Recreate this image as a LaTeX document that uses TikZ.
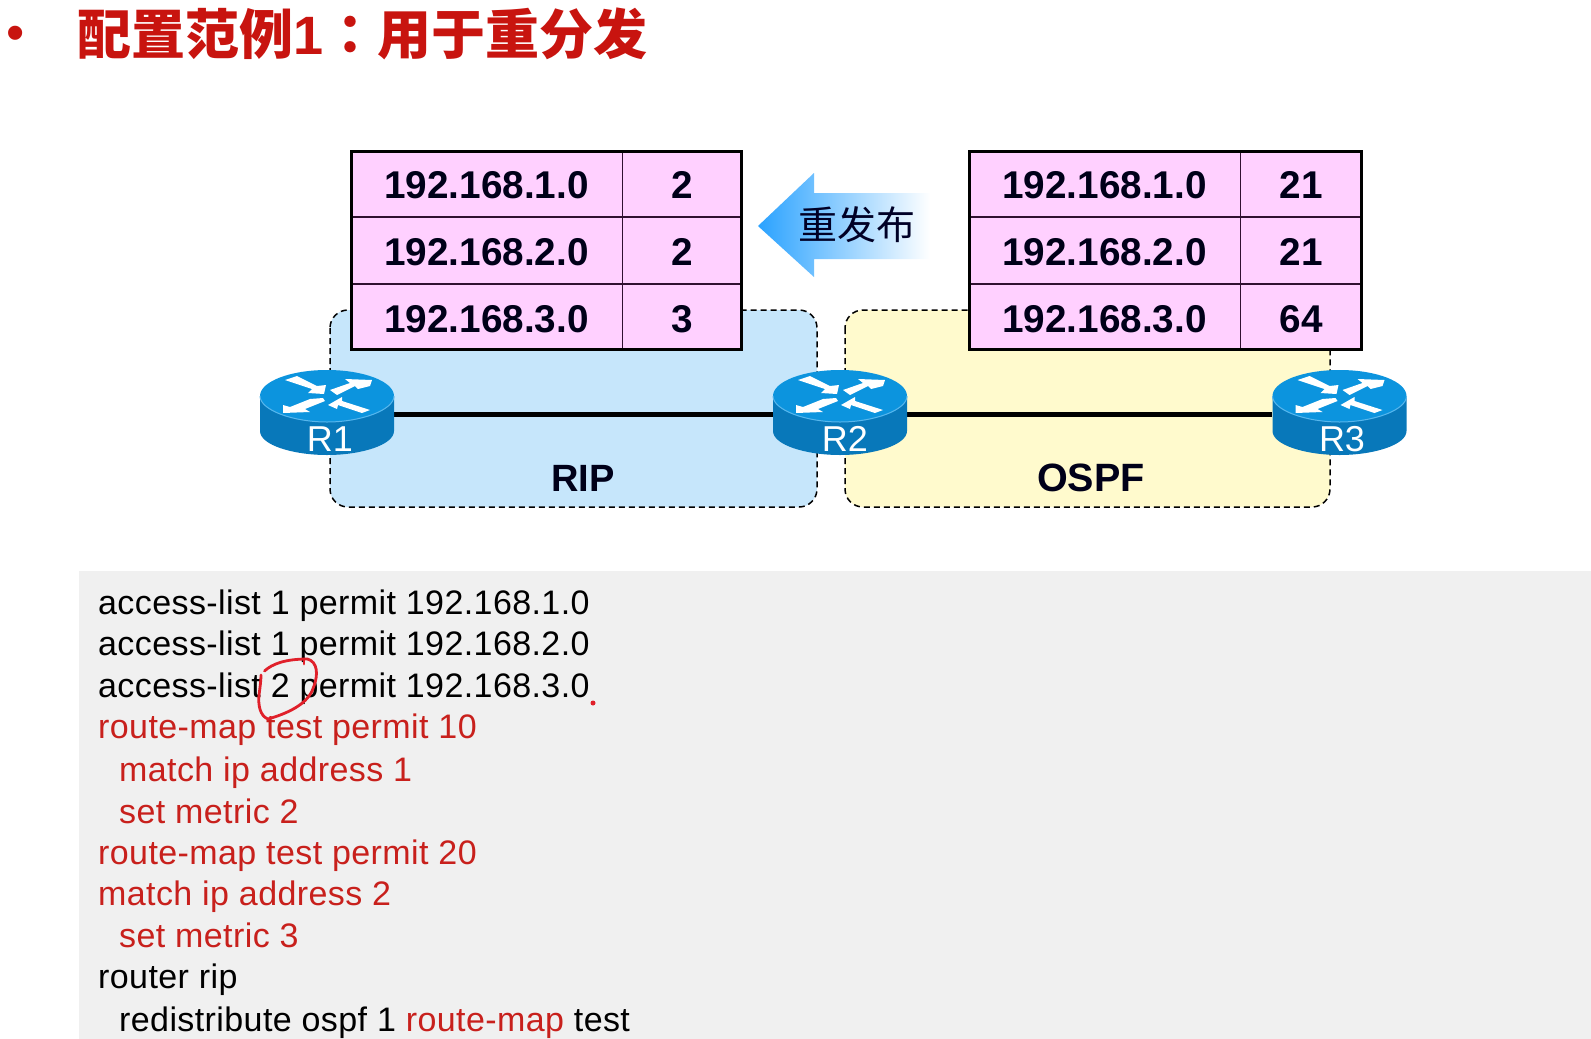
\documentclass[tikz,border=0pt]{standalone}
\usepackage{fontspec}
\setmainfont{Liberation Sans}
\newfontfamily\codefont[LetterSpace=1.2]{Liberation Sans}
\newfontfamily\cjksc{Noto Sans CJK SC}
\newfontfamily\cjktc{Noto Sans CJK TC}
\definecolor{codebg}{HTML}{F0F0F0}
\definecolor{codered}{HTML}{C8201C}
\definecolor{titlered}{HTML}{C8140F}
\definecolor{cellpink}{HTML}{FFD0FF}
\definecolor{cellline}{HTML}{301030}
\definecolor{ripblue}{HTML}{C6E6FB}
\definecolor{ospfyellow}{HTML}{FFFACD}
\definecolor{rtop}{HTML}{0C94DE}
\definecolor{rside}{HTML}{0878BA}
\definecolor{rrim}{HTML}{58B6EC}
\definecolor{arrowblue}{HTML}{2AA2FF}
\definecolor{inkred}{HTML}{E0202A}
\newcommand\routerdraw[1]{%
  \begin{scope}[shift={(#1.center)},yshift=1pt]
    \fill[rside] (-67,-17) -- (-67,18) .. controls (-67,32) and (-34,42) .. (0,42) .. controls (34,42) and (67,32) .. (67,18) -- (67,-17) -- cycle;
    \fill[rtop] (0,-17) ellipse[x radius=67,y radius=26];
    \draw[rrim,line width=1pt] (-67,-17) .. controls (-67,-3) and (-34,9) .. (0,9) .. controls (34,9) and (67,-3) .. (67,-17);
    \fill[white] (-42,-33) -- (-30,-37) -- (-10,-27) -- (-1,-28) -- (-3,-19) -- (-19,-20) -- (-15,-24) -- cycle;
    \fill[white] (3,-23) -- (23,-30) -- (18,-34) -- (45,-33) -- (43,-27) -- (31,-24) -- (28,-27) -- (10,-18) -- cycle;
    \fill[white] (-4,-15) -- (-2,-12) -- (-22,-4) -- (-17,-1) -- (-44,0) -- (-44,-8) -- (-37,-6) -- (-17,-14) -- cycle;
    \fill[white] (1,-8) -- (15,-16) -- (15,-12) -- (43,-3) -- (35,0) -- (11,-8) -- (10,-4) -- cycle;
  \end{scope}}
\tikzset{
  x=1pt,y=-1pt,
  codeline/.style={anchor=base west,inner sep=0pt,font=\fontsize{34}{34}\codefont},
  redline/.style={codeline,text=codered},
  cell/.style={draw=cellline,line width=1pt,fill=cellpink,inner sep=0pt,text height=30pt,text depth=0pt,font=\fontsize{38.7}{39}\selectfont\bfseries,text=black!90!blue},
  addr/.style={cell,minimum width=271pt,minimum height=66pt},
  metric/.style={cell,minimum width=120pt,minimum height=66pt},
  frame/.style={draw=black,line width=3pt},
  region/.style={draw=black,line width=1.5pt,dash pattern=on 6pt off 4pt,rounded corners=18pt},
  routerbox/.style={minimum width=134pt,minimum height=86pt,inner sep=0pt},
  routerlabel/.style={text=white,font=\fontsize{36}{36}\selectfont,inner sep=0pt},
  zonelabel/.style={inner sep=0pt,text=black!90!blue},
  link/.style={draw=black,line width=5pt},
  ink/.style={draw=inkred,line width=2.8pt,line cap=round,line join=round}
}
\begin{document}
\begin{tikzpicture}
\useasboundingbox (0,0) rectangle (1591,1039);
\fill[white] (0,0) rectangle (1591,1039);
% title
\node[anchor=center,inner sep=0pt,text=titlered,font=\fontsize{52}{52}\selectfont] (bullet) at (16,38) {•};
\node[anchor=base west,inner sep=0pt,text=titlered,font=\fontsize{54}{54}\selectfont\cjksc\bfseries] (title) at (77,54) {配置范例{\rmfamily\bfseries 1}{\cjktc\bfseries ：}用于重分发};
% code panel
\fill[codebg] (79,571) rectangle (1591,1039);
% regions
\path[region,fill=ripblue] (330,310) rectangle (817,507);
\path[region,fill=ospfyellow] (845,310) rectangle (1330,507);
% routers
\node[routerbox] (R1) at (327,414) {};
\node[routerbox] (R2) at (840,414) {};
\node[routerbox] (R3) at (1339.5,414) {};
\draw[link] (R1) -- (R2);
\draw[link] (R2) -- (R3);
\routerdraw{R1}\routerdraw{R2}\routerdraw{R3}
\node[routerlabel] (L1) at (330,439) {R1};
\node[routerlabel] (L2) at (845,439) {R2};
\node[routerlabel] (L3) at (1342,439) {R3};
\node[zonelabel,font=\fontsize{38}{38}\selectfont\bfseries] (rip) at (583,478) {RIP};
\node[zonelabel,font=\fontsize{39.5}{39}\selectfont\bfseries] (ospf) at (1091,478) {OSPF};
% left table
\node[addr] (a1) at (486.5,183.5) {192.168.1.0};
\node[metric] (am1) at (682,183.5) {2};
\node[addr] (a2) at (486.5,250) {192.168.2.0};
\node[metric] (am2) at (682,250) {2};
\node[addr] (a3) at (486.5,317) {192.168.3.0};
\node[metric] (am3) at (682,317) {3};
\draw[frame] ([shift={(1,1)}]a1.north west) rectangle ([shift={(-1,-1)}]am3.south east);
% right table
\node[addr] (b1) at (1104.5,183.5) {192.168.1.0};
\node[metric,minimum width=122pt] (bm1) at (1301,183.5) {21};
\node[addr] (b2) at (1104.5,250) {192.168.2.0};
\node[metric,minimum width=122pt] (bm2) at (1301,250) {21};
\node[addr] (b3) at (1104.5,317) {192.168.3.0};
\node[metric,minimum width=122pt] (bm3) at (1301,317) {64};
\draw[frame] ([shift={(1,1)}]b1.north west) rectangle ([shift={(-1,-1)}]bm3.south east);
% redistribution arrow
\shade[left color=arrowblue,right color=white] (758,226) -- (814,173) -- (814,193) -- (930,193) -- (930,259) -- (814,259) -- (814,277) -- cycle;
\node[inner sep=0pt,font=\fontsize{39}{39}\selectfont\cjksc,text=black!85!blue] (redist) at (857,225) {重发布};
% code
\node[codeline] (c1) at (98,614) {access-list 1 permit 192.168.1.0};
\node[codeline] (c2) at (98,655) {access-list 1 permit 192.168.2.0};
\node[codeline] (c3) at (98,697) {access-list 2 permit 192.168.3.0};
\node[redline] (c4) at (98,738) {route-map test permit 10};
\node[redline] (c5) at (119,781) {match ip address 1};
\node[redline] (c6) at (119,823) {set metric 2};
\node[redline] (c7) at (98,864) {route-map test permit 20};
\node[redline] (c8) at (98,905) {match ip address 2};
\node[redline] (c9) at (119,947) {set metric 3};
\node[codeline] (c10) at (98,988) {router rip};
\node[codeline] (c11) at (119,1031) {redistribute ospf 1 {\color{codered}route-map} test};
% handwriting
\draw[ink] (264.5,671) .. controls (272,664) and (285,659) .. (307.5,659) .. controls (318,662) and (318,675) .. (314,686) .. controls (310,700) and (296,711) .. (268,719) .. controls (260,716) and (258,705) .. (259,695) .. controls (260,688) and (261,680) .. (261,675);
\draw[ink] (304,659) -- (304,664);
\fill[inkred] (593,703) circle[radius=2.5];
\end{tikzpicture}
\end{document}
